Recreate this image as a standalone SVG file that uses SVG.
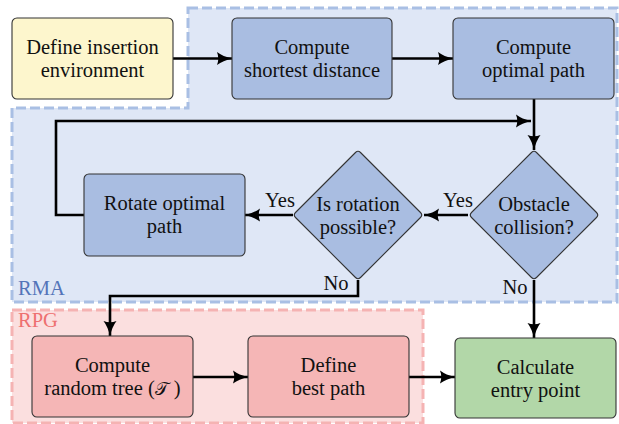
<svg xmlns="http://www.w3.org/2000/svg" width="619" height="424" viewBox="0 0 619 424">
  <style>
    .lbl { font-family: 'Liberation Serif', 'Times New Roman', Times, serif; font-size: 20.5px; fill: #111; text-anchor: middle; }
    .node { stroke: #333; stroke-width: 1.1; }
    .conn { fill: none; stroke: #000; stroke-width: 2.6; }
  </style>
  <defs>
    <marker id="arrow" markerUnits="userSpaceOnUse" markerWidth="18" markerHeight="14" refX="15" refY="7" orient="auto">
      <path d="M0,0.5 Q6,5 15,7 Q6,9 0,13.5 Q2.5,7 0,0.5 Z" fill="#000"/>
    </marker>
  </defs>

  <rect width="619" height="424" fill="#fff"/>

  <!-- regions -->
  <g id="region-rma">
    <polygon points="188,8 617,8 617,302 12,302 12,108 188,108" fill="#dfe7f6" stroke="#a9bfe4" stroke-width="3" stroke-dasharray="10 4"/>
    <text class="lbl" x="18" y="295" style="text-anchor:start;fill:#5374b9">RMA</text>
  </g>
  <g id="region-rpg">
    <rect x="12" y="310" width="411" height="113" fill="#fbdfdf" stroke="#f5b3b3" stroke-width="3" stroke-dasharray="10 4"/>
    <text class="lbl" x="18" y="327" style="text-anchor:start;fill:#ee7070">RPG</text>
  </g>

  <!-- connectors -->
  <g id="connectors">
    <line class="conn" x1="173" y1="58.5" x2="232" y2="58.5" marker-end="url(#arrow)"/>
    <line class="conn" x1="392" y1="58.5" x2="453" y2="58.5" marker-end="url(#arrow)"/>
    <line class="conn" x1="534" y1="99" x2="534" y2="150" marker-end="url(#arrow)"/>
    <polyline class="conn" points="84,215 56,215 56,121 531,121" marker-end="url(#arrow)"/>
    <line class="conn" x1="468" y1="215" x2="424" y2="215" marker-end="url(#arrow)"/>
    <line class="conn" x1="293" y1="215" x2="245" y2="215" marker-end="url(#arrow)"/>
    <polyline class="conn" points="358,280 358,296 110,296 110,336" marker-end="url(#arrow)"/>
    <line class="conn" x1="534" y1="280" x2="534" y2="338" marker-end="url(#arrow)"/>
    <line class="conn" x1="193" y1="377" x2="248" y2="377" marker-end="url(#arrow)"/>
    <line class="conn" x1="409" y1="377" x2="455" y2="377" marker-end="url(#arrow)"/>
    <text class="lbl" x="458" y="207">Yes</text>
    <text class="lbl" x="280" y="207">Yes</text>
    <text class="lbl" x="336" y="290">No</text>
    <text class="lbl" x="515" y="294">No</text>
  </g>

  <!-- nodes -->
  <g id="define-env">
    <rect class="node" x="12" y="18" width="161" height="81" rx="5" fill="#fdf6cd"/>
    <text class="lbl" x="92.5" y="54">Define insertion</text>
    <text class="lbl" x="92.5" y="77">environment</text>
  </g>
  <g id="shortest-distance">
    <rect class="node" x="232" y="18" width="160" height="81" rx="5" fill="#a9bde1"/>
    <text class="lbl" x="312" y="54">Compute</text>
    <text class="lbl" x="312" y="77">shortest distance</text>
  </g>
  <g id="optimal-path">
    <rect class="node" x="453" y="18" width="161" height="81" rx="5" fill="#a9bde1"/>
    <text class="lbl" x="533.5" y="54">Compute</text>
    <text class="lbl" x="533.5" y="77">optimal path</text>
  </g>
  <g id="obstacle-collision">
    <path class="node" d="M531.5,152.5 Q534,150 536.5,152.5 L596.5,212.5 Q599,215 596.5,217.5 L536.5,277.5 Q534,280 531.5,277.5 L471.5,217.5 Q469,215 471.5,212.5 Z" fill="#a9bde1"/>
    <text class="lbl" x="534" y="210.5">Obstacle</text>
    <text class="lbl" x="534" y="233.5">collision?</text>
  </g>
  <g id="rotation-possible">
    <path class="node" d="M355.5,152.5 Q358,150 360.5,152.5 L420.5,212.5 Q423,215 420.5,217.5 L360.5,277.5 Q358,280 355.5,277.5 L295.5,217.5 Q293,215 295.5,212.5 Z" fill="#a9bde1"/>
    <text class="lbl" x="358" y="210.5">Is rotation</text>
    <text class="lbl" x="358" y="233.5">possible?</text>
  </g>
  <g id="rotate-path">
    <rect class="node" x="84" y="174" width="161" height="82" rx="5" fill="#a9bde1"/>
    <text class="lbl" x="164.5" y="209.5">Rotate optimal</text>
    <text class="lbl" x="164.5" y="232.5">path</text>
  </g>
  <g id="random-tree">
    <rect class="node" x="32" y="336" width="161" height="81" rx="5" fill="#f5b6b6"/>
    <text class="lbl" x="112.5" y="372">Compute</text>
    <text class="lbl" x="112.5" y="395">random tree (<tspan font-size="18">𝒯</tspan> )</text>
  </g>
  <g id="best-path">
    <rect class="node" x="248" y="336" width="161" height="81" rx="5" fill="#f5b6b6"/>
    <text class="lbl" x="328.5" y="372">Define</text>
    <text class="lbl" x="328.5" y="395">best path</text>
  </g>
  <g id="entry-point">
    <rect class="node" x="455" y="338" width="161" height="80" rx="5" fill="#b2d7a8"/>
    <text class="lbl" x="535.5" y="373.5">Calculate</text>
    <text class="lbl" x="535.5" y="396.5">entry point</text>
  </g>
</svg>
